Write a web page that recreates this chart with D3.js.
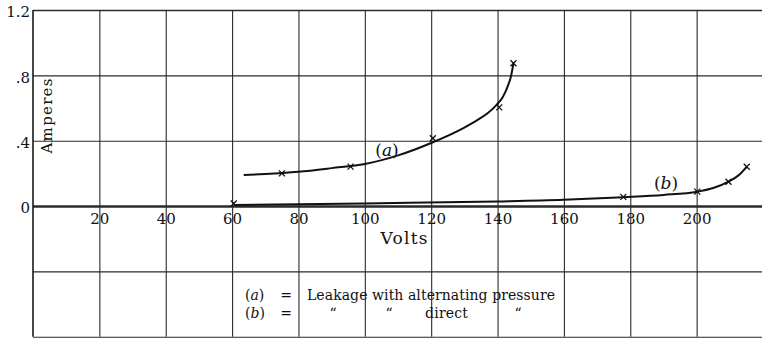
<!DOCTYPE html>
<html>
<head>
<meta charset="utf-8">
<script src="https://cdn.jsdelivr.net/npm/d3@7"></script>
<style>
  body { margin: 0; background: #fff; }
  text { font-family: "DejaVu Serif", serif; fill: #111; }
</style>
</head>
<body>
<script>
// tick values and labels
var xTicks = [20, 40, 60, 80, 100, 120, 140, 160, 180, 200]
var yTicks = [1.2, 0.8, 0.4, 0]
var yTickLabels = ["1.2", ".8", ".4", "0"]
var gridRowsBelow = [-0.4, -0.8]

// (a) leakage with alternating pressure - observed points
var aMarkVolts = [75, 95.7, 120.5, 140.5, 144.8]
var aMarkAmps = [0.200, 0.241, 0.415, 0.604, 0.874]
// (a) drawn curve
var aCurveVolts = [63.5, 70, 80, 90, 100, 110, 120, 130, 134, 137, 139.5, 141.5, 143, 144, 144.8]
var aCurveAmps = [0.19, 0.196, 0.21, 0.232, 0.257, 0.31, 0.386, 0.48, 0.527, 0.568, 0.615, 0.665, 0.73, 0.79, 0.874]

// (b) leakage with direct pressure - observed points
var bMarkVolts = [60.5, 177.9, 200.2, 209.6, 215.1]
var bMarkAmps = [0.015, 0.056, 0.088, 0.149, 0.24]
// (b) drawn curve
var bCurveVolts = [60.5, 100, 140, 160, 177.9, 190, 200.2, 205, 209.6, 213, 215.1]
var bCurveAmps = [0.006, 0.016, 0.028, 0.038, 0.054, 0.068, 0.088, 0.11, 0.149, 0.195, 0.24]

var width = 762, height = 338

var svg = d3.select("body")
  .append("svg")
  .attr("width", width)
  .attr("height", height)

var x = d3.scaleLinear().domain([0, 220]).range([33, 763])
var y = d3.scaleLinear().domain([-0.8, 1.2]).range([336.7, 10])

// vertical grid lines via axis ticks
svg.append("g")
  .attr("transform", "translate(0," + y(1.2) + ")")
  .call(d3.axisBottom(x).tickValues(xTicks).tickSize(y(-0.8) - y(1.2)).tickFormat(""))
  .call(g => g.select(".domain").remove())
  .call(g => g.selectAll(".tick line").attr("stroke", "#2a2a2a").attr("stroke-width", 1.1))

// horizontal grid lines
svg.append("g")
  .attr("transform", "translate(" + x(0) + ",0)")
  .call(d3.axisRight(y).tickValues(yTicks.concat(gridRowsBelow)).tickSize(x(220) - x(0)).tickFormat(""))
  .call(g => g.select(".domain").remove())
  .call(g => g.selectAll(".tick line")
    .attr("stroke", "#2a2a2a")
    .attr("stroke-width", d => d === 0 ? 2.6 : (d === 1.2 ? 1.6 : 1.1)))

// left axis line
svg.append("line")
  .attr("x1", x(0)).attr("x2", x(0))
  .attr("y1", y(1.2)).attr("y2", y(-0.8))
  .attr("stroke", "#1a1a1a").attr("stroke-width", 1.6)

// x tick labels
svg.append("g")
  .attr("transform", "translate(0," + y(0) + ")")
  .call(d3.axisBottom(x).tickValues(xTicks).tickSize(0).tickPadding(7))
  .call(g => g.select(".domain").remove())
  .call(g => g.selectAll("text")
    .attr("font-family", "DejaVu Serif").attr("font-size", 15).attr("fill", "#111"))

// y tick labels
svg.append("g")
  .attr("transform", "translate(30,2)")
  .call(d3.axisLeft(y).tickValues(yTicks).tickSize(0).tickPadding(0)
    .tickFormat((d, i) => yTickLabels[i]))
  .call(g => g.select(".domain").remove())
  .call(g => g.selectAll("text")
    .attr("font-family", "DejaVu Serif").attr("font-size", 15).attr("fill", "#111"))

// axis titles
svg.append("text")
  .attr("x", 404).attr("y", 244)
  .attr("text-anchor", "middle")
  .attr("font-size", 17)
  .attr("textLength", 47)
  .text("Volts")

svg.append("text")
  .attr("transform", "translate(52,116) rotate(-90)")
  .attr("text-anchor", "middle")
  .attr("font-size", 15)
  .attr("textLength", 75)
  .text("Amperes")

// curves
var line = d3.line()
  .x(d => x(d[0]))
  .y(d => y(d[1]))
  .curve(d3.curveMonotoneX)

svg.append("path")
  .attr("d", line(d3.zip(aCurveVolts, aCurveAmps)))
  .attr("fill", "none").attr("stroke", "#111").attr("stroke-width", 2)

svg.append("path")
  .attr("d", line(d3.zip(bCurveVolts, bCurveAmps)))
  .attr("fill", "none").attr("stroke", "#111").attr("stroke-width", 2)

// x markers
function cross(px, py) {
  var s = 3
  return "M" + (px - s) + "," + (py - s) + "L" + (px + s) + "," + (py + s) +
    "M" + (px - s) + "," + (py + s) + "L" + (px + s) + "," + (py - s)
}
svg.append("g").selectAll("path")
  .data(d3.zip(aMarkVolts, aMarkAmps).concat(d3.zip(bMarkVolts, bMarkAmps)))
  .join("path")
  .attr("d", d => cross(x(d[0]), y(d[1])))
  .attr("stroke", "#111").attr("stroke-width", 1.3)

// curve labels
function curveLabel(px, py, letter) {
  var t = svg.append("text")
    .attr("x", px).attr("y", py)
    .attr("text-anchor", "middle")
    .attr("font-size", 17)
  t.append("tspan").text("(")
  t.append("tspan").attr("font-style", "italic").text(letter)
  t.append("tspan").text(")")
}
curveLabel(387, 156, "a")
curveLabel(666, 189, "b")

// legend
var legend = svg.append("g").attr("font-size", 14)
function key(py, letter) {
  var t = legend.append("text").attr("x", 245).attr("y", py)
  t.append("tspan").text("(")
  t.append("tspan").attr("font-style", "italic").text(letter)
  t.append("tspan").text(")")
  legend.append("text").attr("x", 286).attr("y", py).attr("text-anchor", "middle").text("=")
}
key(300, "a")
key(318, "b")
legend.append("text").attr("x", 307).attr("y", 300).attr("textLength", 248)
  .text("Leakage with alternating pressure")
legend.append("text").attr("x", 333).attr("y", 318).attr("text-anchor", "middle").text("\u201C")
legend.append("text").attr("x", 389).attr("y", 318).attr("text-anchor", "middle").text("\u201C")
legend.append("text").attr("x", 425).attr("y", 318).attr("textLength", 43).text("direct")
legend.append("text").attr("x", 518).attr("y", 318).attr("text-anchor", "middle").text("\u201C")
</script>
</body>
</html>
